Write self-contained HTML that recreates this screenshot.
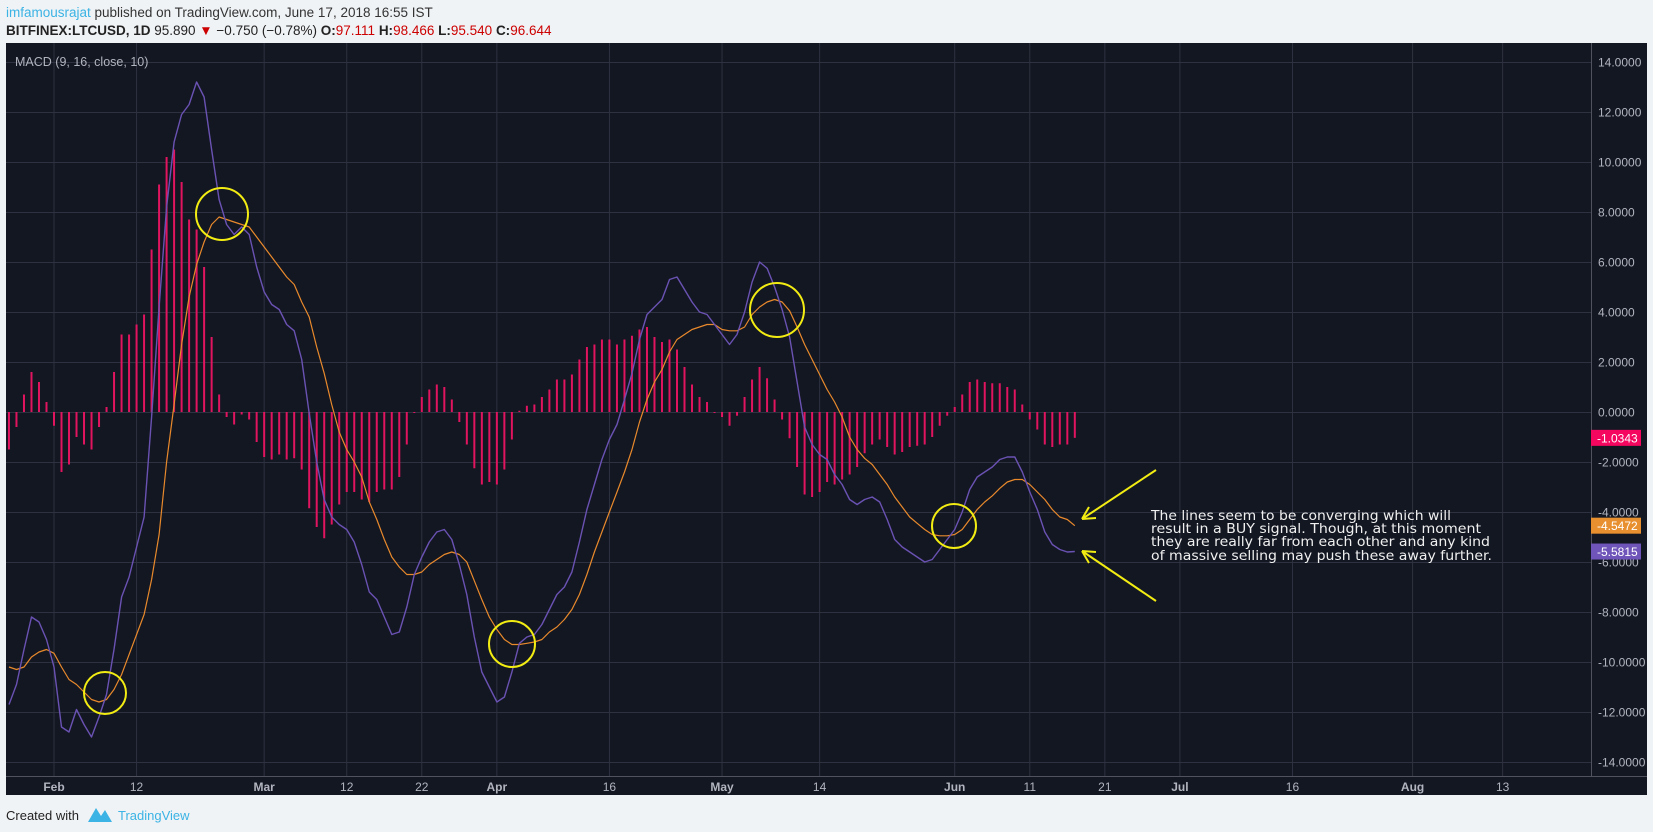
<!DOCTYPE html>
<html><head><meta charset="utf-8"><style>
html,body{margin:0;padding:0;background:#f0f3f6;width:1653px;height:832px;overflow:hidden;font-family:"Liberation Sans",sans-serif}
svg{position:absolute;left:0;top:0}
</style></head><body>
<svg id="chart" width="1653" height="832" xmlns="http://www.w3.org/2000/svg">
  <text x="6" y="17" font-size="13.5" fill="#333"><tspan fill="#3bb3e4">imfamousrajat</tspan> published on TradingView.com, June 17, 2018 16:55 IST</text>
  <text x="6" y="35" font-size="13.5" fill="#222"><tspan font-weight="bold">BITFINEX:LTCUSD, 1D</tspan> 95.890 <tspan fill="#c00">▼</tspan> −0.750 (−0.78%) <tspan font-weight="bold">O:</tspan><tspan fill="#c00">97.111</tspan> <tspan font-weight="bold">H:</tspan><tspan fill="#c00">98.466</tspan> <tspan font-weight="bold">L:</tspan><tspan fill="#c00">95.540</tspan> <tspan font-weight="bold">C:</tspan><tspan fill="#c00">96.644</tspan></text>
  <rect x="6" y="43" width="1641" height="752" fill="#131722"/>
  <g id="grid"></g>
  <line x1="6" y1="776.5" x2="1647" y2="776.5" stroke="#50535e"/>
  <line x1="1591.5" y1="43" x2="1591.5" y2="776" stroke="#50535e"/>
  <g id="hist"></g>
  <g id="lines"></g>
  <g id="axes"></g>
  <text x="15" y="66" font-size="12.5" fill="#b2b5be">MACD (9, 16, close, 10)</text>
  <g fill="none" stroke="#f2ec13" stroke-width="2">
    <circle cx="105" cy="693" r="21"/>
    <circle cx="222" cy="214" r="26"/>
    <circle cx="512" cy="644" r="23"/>
    <circle cx="777" cy="310" r="27"/>
    <circle cx="954" cy="526" r="22"/>
  </g>
  <g stroke="#f2ec13" stroke-width="2" fill="none">
    <path d="M1156 470 L1082 519 M1082 519 L1096 518 M1082 519 L1089 507"/>
    <path d="M1156 601 L1082 551 M1082 551 L1096 552 M1082 551 L1089 563"/>
  </g>
  <g font-family="'DejaVu Sans',sans-serif" font-size="13.5" fill="#f0f0f0">
    <text x="1151" y="520" textLength="300" lengthAdjust="spacingAndGlyphs">The lines seem to be converging which will</text>
    <text x="1151" y="533" textLength="330" lengthAdjust="spacingAndGlyphs">result in a BUY signal. Though, at this moment</text>
    <text x="1151" y="546" textLength="339" lengthAdjust="spacingAndGlyphs">they are really far from each other and any kind</text>
    <text x="1151" y="560" textLength="341" lengthAdjust="spacingAndGlyphs">of massive selling may push these away further.</text>
  </g>
  <g id="tags"></g>
  <text x="6" y="820" font-size="13" fill="#222">Created with</text>
  <path d="M88 822 L96 808 L101 816 L105 810 L112 822 Z" fill="#3bb3e4"/>
  <text x="118" y="820" font-size="13" fill="#3bb3e4">TradingView</text>
</svg>
<script>
const startDay = -6;
const macdValues = [-11.7,-10.9,-9.5,-8.2,-8.4,-9.1,-10.2,-12.6,-12.8,-11.9,-12.5,-13.0,-12.2,-11.3,-9.5,-7.4,-6.6,-5.4,-4.2,-0.2,4.2,8.2,10.8,11.9,12.3,13.2,12.6,10.5,8.5,7.5,7.1,7.4,7.1,5.8,4.8,4.3,4.1,3.5,
3.25,2.1,-0.05,-2.0,-3.5,-4.2,-4.5,-4.7,-5.2,-6.1,-7.2,-7.5,-8.2,-8.9,-8.8,-7.8,-6.5,-5.8,-5.2,-4.8,-4.7,-5.1,-6.1,-7.3,-9.0,-10.4,-11.0,-11.6,-11.4,-10.4,-9.25,-9.0,-8.9,-8.5,-7.9,-7.3,-7.0,
-6.4,-5.2,-3.9,-2.9,-1.9,-1.1,-0.5,0.5,1.55,2.9,3.9,4.2,4.5,5.3,5.4,4.9,4.4,4.0,3.9,3.5,3.1,2.7,3.1,4.0,5.2,6.0,5.75,5.0,4.1,3.0,1.2,-0.6,-1.3,-1.7,-1.9,-2.5,
-2.9,-3.5,-3.7,-3.5,-3.4,-3.6,-4.3,-5.1,-5.4,-5.6,-5.8,-6.0,-5.9,-5.5,-5.1,-4.7,-4.0,-3.1,-2.6,-2.4,-2.2,-1.9,-1.8,-1.8,-2.4,-3.2,-3.9,-4.8,-5.3,-5.5,-5.6,-5.5815];
const signalValues = [-10.2,-10.3,-10.2,-9.8,-9.6,-9.5,-9.65,-10.2,-10.7,-10.9,-11.2,-11.5,-11.6,-11.5,-11.1,-10.5,-9.7,-8.9,-8.1,-6.7,-4.9,-2.0,0.3,2.7,4.6,5.9,6.8,7.5,7.8,7.7,7.6,7.5,7.4,7.0,6.6,6.2,5.8,5.4,
5.1,4.4,3.8,2.6,1.55,0.3,-0.8,-1.5,-2.0,-2.6,-3.6,-4.3,-5.1,-5.8,-6.2,-6.5,-6.5,-6.4,-6.1,-5.9,-5.7,-5.6,-5.7,-6.0,-6.75,-7.5,-8.2,-8.7,-9.1,-9.3,-9.3,-9.25,-9.2,-9.1,-8.8,-8.6,-8.3,
-7.9,-7.3,-6.5,-5.6,-4.8,-4.0,-3.2,-2.4,-1.5,-0.4,0.5,1.2,1.7,2.4,2.9,3.1,3.3,3.4,3.5,3.5,3.3,3.25,3.25,3.4,3.9,4.2,4.4,4.5,4.4,4.05,3.4,2.7,2.1,1.5,0.9,0.4,
-0.2,-1.0,-1.5,-1.85,-2.1,-2.5,-2.9,-3.4,-3.8,-4.2,-4.45,-4.7,-4.9,-4.95,-4.95,-4.9,-4.7,-4.3,-3.9,-3.6,-3.35,-3.05,-2.8,-2.7,-2.7,-2.9,-3.2,-3.5,-3.9,-4.2,-4.3,-4.5472];
const histValues = macdValues.map((m,i)=>m-signalValues[i]);
const yTicks = [14,12,10,8,6,4,2,0,-2,-4,-6,-8,-10,-12,-14];
const xTickDays = [0,11,28,39,49,59,74,89,102,120,130,140,150,165,181,193];
const xTickLabels = ["Feb","12","Mar","12","22","Apr","16","May","14","Jun","11","21","Jul","16","Aug","13"];
const monthTicks = ["Feb","Mar","Apr","May","Jun","Jul","Aug"];

const NS="http://www.w3.org/2000/svg";
const xOf = d => 54 + 7.506*d;
const yOf = v => 412 - 25*v;
function mk(tag, attrs, parent){const e=document.createElementNS(NS,tag);for(const k in attrs)e.setAttribute(k,attrs[k]);parent.appendChild(e);return e;}
const grid=document.getElementById('grid'), axes=document.getElementById('axes');
yTicks.forEach(v=>{
  const l=mk('line',{x1:6,x2:1591,y1:yOf(v)+0.5,y2:yOf(v)+0.5,stroke:'#2e3240'},grid);
  
  
  const t=mk('text',{x:1598,y:yOf(v)+4.5,'font-size':12,fill:'#b2b5be'},axes);
  t.textContent=v.toFixed(4);
  
  
});
xTickDays.forEach((d,i)=>{
  const x=xOf(d);
  const l=mk('line',{x1:x,x2:x,y1:43,y2:776,stroke:'#2e3240'},grid);
  
  
  const lab=xTickLabels[i];
  const t=mk('text',{x:x,y:791,'font-size':12,fill:'#b2b5be','text-anchor':'middle','font-weight':monthTicks.includes(lab)?'bold':'normal'},axes);
  t.textContent=lab;
  
  
});
const hist=document.getElementById('hist');
histValues.forEach((h,i)=>{
  const x=xOf(startDay+i);
  const y0=yOf(0), y1=yOf(h);
  const r=mk('rect',{x:x-1,y:Math.min(y0,y1),width:2,height:Math.max(1,Math.abs(y1-y0)),fill:'#e0145f'},hist);
  
  
});
const lines=document.getElementById('lines');
function poly(vals,color,w,name){
  const pts=vals.map((v,i)=>xOf(startDay+i).toFixed(1)+','+yOf(v).toFixed(1)).join(' ');
  const p=mk('polyline',{points:pts,fill:'none',stroke:color,'stroke-width':w,'stroke-linejoin':'round'},lines);
  
  
}
poly(signalValues,'#e8892c',1.2,'signal-line');
poly(macdValues,'#6a52b3',1.4,'macd-line');
const tags=document.getElementById('tags');
function tag(v,color,name){
  const y=yOf(v);
  const r=mk('rect',{x:1591,y:y-8,width:50,height:16,fill:color},tags);
  
  
  const t=mk('text',{x:1597,y:y+4.5,'font-size':12,fill:'#fff'},tags);
  t.textContent=v.toFixed(4);
  
  
}
tag(histValues[histValues.length-1],'#f5065f','histogram-last');
tag(signalValues[signalValues.length-1],'#e8902f','signal-last');
tag(macdValues[macdValues.length-1],'#6f55b9','macd-last');
</script>
</body></html>
